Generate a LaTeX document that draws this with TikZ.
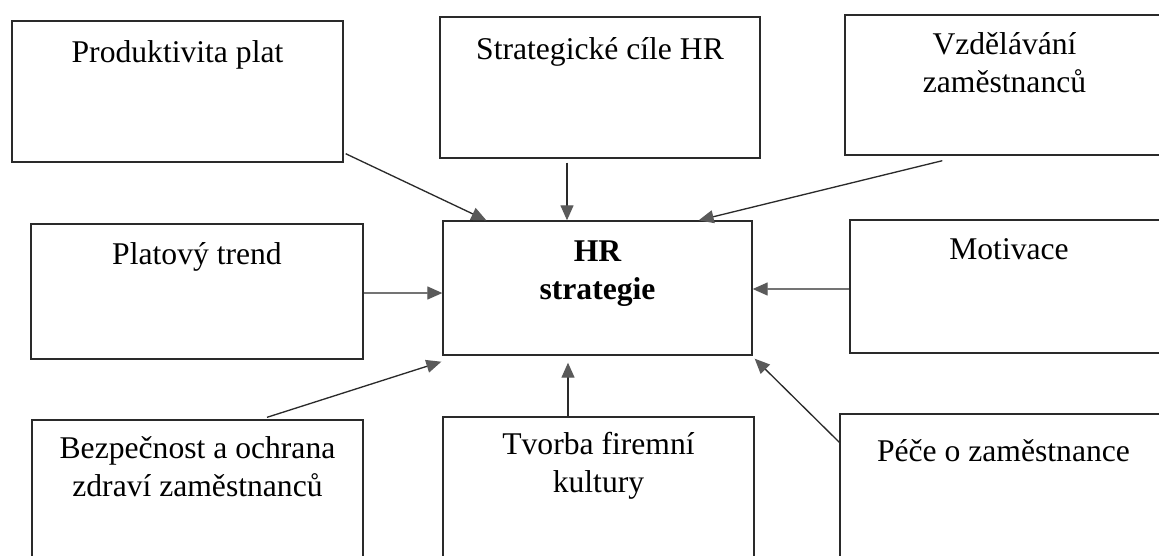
\documentclass[tikz,border=0pt]{standalone}
\usepackage{fontspec}
\setmainfont{Liberation Serif}
\usepackage{tikz}
\usetikzlibrary{arrows.meta,calc}
\definecolor{linegray}{HTML}{2A2A2A}
\definecolor{tipgray}{HTML}{5A5A5A}

\begin{document}
\begin{tikzpicture}[
      x=0.02cm,y=-0.02cm,
      box/.style={draw=linegray,line width=0.8pt,minimum width=#1,inner sep=0pt},
      label/.style={anchor=base,align=center,inner sep=0pt,
                    font=\fontsize{18}{21.6}\selectfont},
      link/.style={draw=linegray,line width=0.75pt,
                   -{Triangle[length=0.3cm,width=0.26cm,color=tipgray]}}
    ]
    \useasboundingbox (0,0) rectangle (1159,555);
    \fill[white] (0,0) rectangle (1159,555);
    \clip (0,0) rectangle (1159,555);
    % boxes, the right and the bottom ones run off the page
    \node[box=6.62cm,minimum height=2.82cm] (prod) at (177.5,91.5) {};
    \node[box=6.4cm,minimum height=2.82cm] (strat) at (600,87.5) {};
    \node[box=6.38cm,minimum height=2.8cm] (vzdel) at (1004.5,85) {};
    \node[box=6.64cm,minimum height=2.7cm] (plat) at (197,291.5) {};
    \node[box=6.18cm,minimum height=2.68cm] (hr) at (597.5,288) {};
    \node[box=6.36cm,minimum height=2.66cm] (motiv) at (1009,286.5) {};
    \node[box=6.62cm,minimum height=3.6cm] (bezp) at (197.5,510) {};
    \node[box=6.22cm,minimum height=3.66cm] (tvorba) at (598.5,508.5) {};
    \node[box=6.54cm,minimum height=3.72cm] (pece) at (1003.5,507) {};
    % texts (two-line ones sit on their last line)
    \node[label] (prodtext) at ($(prod.north)+(0,42)$) {Produktivita plat};
    \node[label] (strattext) at ($(strat.north)+(0,43)$) {Strategické cíle HR};
    \node[label] (vzdeltext) at ($(vzdel.north)+(0,78)$) {Vzdělávání\\zaměstnanců};
    \node[label] (plattext) at ($(plat.north)+(0,41)$) {Platový trend};
    \node[label,font=\fontsize{18}{21.6}\selectfont\bfseries] (hrtext)
      at ($(hr.north)+(0,79)$) {HR\\strategie};
    \node[label] (motivtext) at ($(motiv.north)+(0,40)$) {Motivace};
    \node[label] (bezptext) at ($(bezp.north)+(0,77)$)
      {Bezpečnost a ochrana\\zdraví zaměstnanců};
    \node[label] (tvorbatext) at ($(tvorba.north)+(0,76)$) {Tvorba firemní\\kultury};
    \node[label] (pecetext) at ($(pece.north)+(0,48)$) {Péče o zaměstnance};
    % arrows into the centre
    \draw[link] ($(prod.south east)+(2,-9)$) -- ($(hr.north west)+(44,0)$);
    \draw[link] ($(strat.south)+(-33,4)$) -- ($(hr.north)+(-30.5,0)$);
    \draw[link] ($(vzdel.south west)+(98,5)$) -- ($(hr.north east)+(-54,0)$);
    \draw[link] ($(plat.east)+(0,1.5)$) -- ($(hr.west)+(0,5)$);
    \draw[link] ($(motiv.west)+(0,2.5)$) -- ($(hr.east)+(0,1)$);
    \draw[link] ($(bezp.north)+(69.5,-2)$) -- ($(hr.south west)+(-1,6)$);
    \draw[link] ($(tvorba.north)+(-30.5,0)$) -- ($(hr.south)+(-29.5,7)$);
    \draw[link] ($(pece.north west)+(0,29)$) -- ($(hr.south east)+(2,3)$);
  \end{tikzpicture}
\end{document}
